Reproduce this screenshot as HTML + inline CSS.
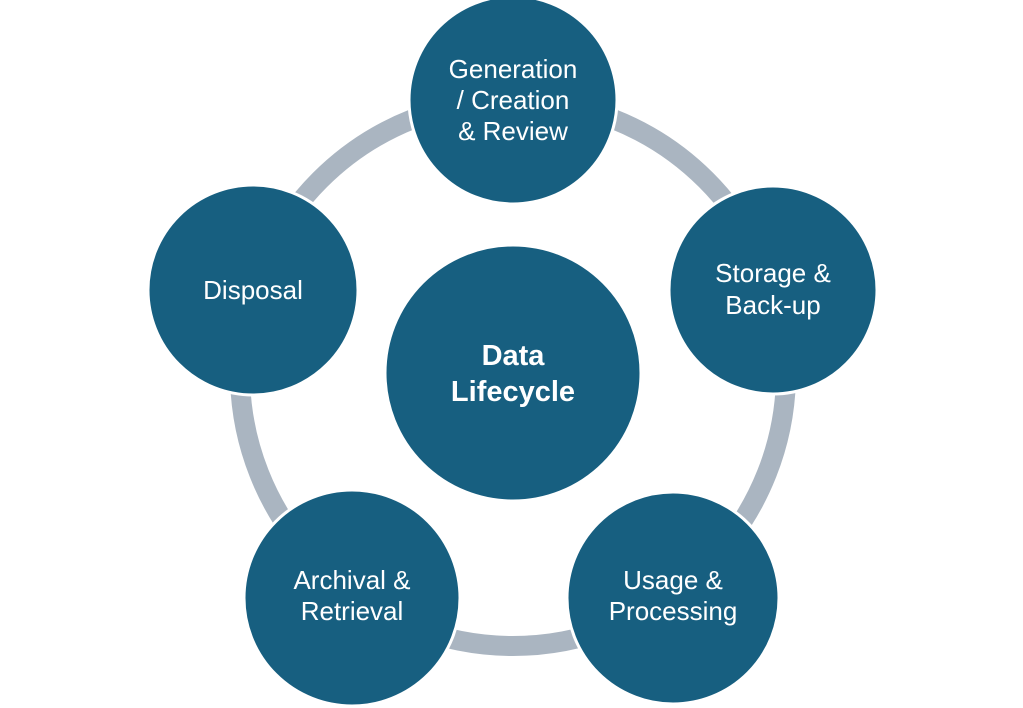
<!DOCTYPE html>
<html><head><style>
html,body{margin:0;padding:0;background:#fff;}
svg{display:block;}
text{font-family:"Liberation Sans",sans-serif;fill:#fff;text-anchor:middle;}
</style></head><body>
<svg width="1023" height="708" viewBox="0 0 1023 708">
<circle cx="513" cy="373" r="273" fill="none" stroke="#aab5c1" stroke-width="20"/>
<g fill="#175f80" stroke="#fff" stroke-width="3">
<circle cx="513" cy="100" r="104"/>
<circle cx="773" cy="290" r="104"/>
<circle cx="673" cy="598" r="106"/>
<circle cx="352" cy="598" r="108"/>
<circle cx="253" cy="290" r="105"/>
<circle cx="513" cy="373" r="128"/>
</g>
<g font-size="26">
<text x="513" y="78">Generation</text>
<text x="513" y="109">/ Creation</text>
<text x="513" y="140">&amp; Review</text>
<text x="773" y="282">Storage &amp;</text>
<text x="773" y="314">Back-up</text>
<text x="673" y="589">Usage &amp;</text>
<text x="673" y="620">Processing</text>
<text x="352" y="589">Archival &amp;</text>
<text x="352" y="620">Retrieval</text>
<text x="253" y="299">Disposal</text>
</g>
<g font-size="29" font-weight="bold">
<text x="513" y="365">Data</text>
<text x="513" y="401">Lifecycle</text>
</g>
</svg>
</body></html>
